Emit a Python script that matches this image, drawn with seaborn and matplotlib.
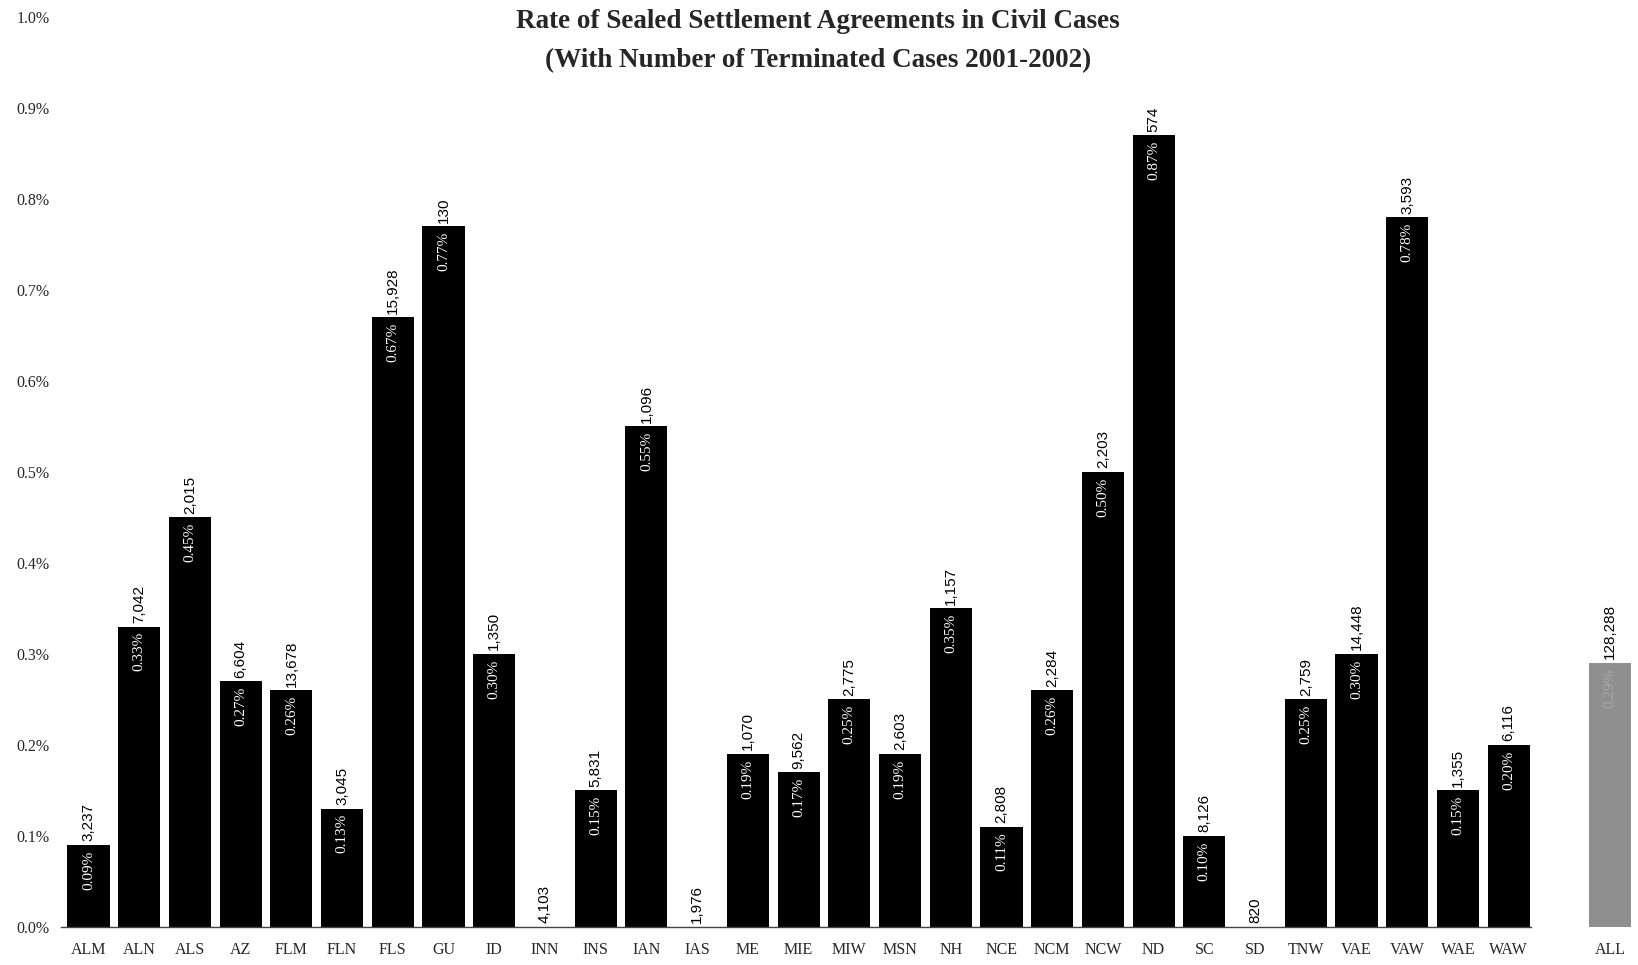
import matplotlib
matplotlib.use("Agg")
import matplotlib.pyplot as plt
import seaborn as sns
import pandas as pd

districts = ["ALM", "ALN", "ALS", "AZ", "FLM", "FLN", "FLS", "GU", "ID", "INN",
             "INS", "IAN", "IAS", "ME", "MIE", "MIW", "MSN", "NH", "NCE", "NCM",
             "NCW", "ND", "SC", "SD", "TNW", "VAE", "VAW", "WAE", "WAW", "ALL"]
sealed_rate = [0.09, 0.33, 0.45, 0.27, 0.26, 0.13, 0.67, 0.77, 0.30, 0.00,
               0.15, 0.55, 0.00, 0.19, 0.17, 0.25, 0.19, 0.35, 0.11, 0.26,
               0.50, 0.87, 0.10, 0.00, 0.25, 0.30, 0.78, 0.15, 0.20, 0.29]
terminated = [3237, 7042, 2015, 6604, 13678, 3045, 15928, 130, 1350, 4103,
              5831, 1096, 1976, 1070, 9562, 2775, 2603, 1157, 2808, 2284,
              2203, 574, 8126, 820, 2759, 14448, 3593, 1355, 6116, 128288]
y_ticks = [0.0, 0.1, 0.2, 0.3, 0.4, 0.5, 0.6, 0.7, 0.8, 0.9, 1.0]

df = pd.DataFrame({"district": districts, "rate": sealed_rate, "cases": terminated})

# a blank slot separates the national total from the districts
spacer = " "
order = districts[:-1] + [spacer, "ALL"]
palette = {d: "black" for d in districts}
palette["ALL"] = "#8f8f8f"

sns.set_style("white")
serif = ["Liberation Serif", "DejaVu Serif"]
sans = ["Liberation Sans", "DejaVu Sans"]

fig = plt.figure(figsize=(16.38, 9.65), dpi=100)
ax = fig.add_axes([0.037, 0.0394, 0.963, 0.9430])

sns.barplot(data=df, x="district", y="rate", hue="district", order=order,
            palette=palette, legend=False, width=0.83, saturation=1,
            edgecolor="none", ax=ax)

ax.set_xlim(-0.55, len(order) - 0.45)
ax.set_ylim(0, 1.0)
ax.set_yticks(y_ticks)
ax.set_yticklabels([f"{t:.1f}%" for t in y_ticks], family=serif, fontsize=11.5)
ax.set_xticks(range(len(order)))
ax.set_xticklabels([("" if d == spacer else d) for d in order], family=serif,
                   fontsize=11.5)
ax.tick_params(axis="x", length=0, pad=11)
ax.tick_params(axis="y", length=0, pad=8)
ax.set_xlabel("")
ax.set_ylabel("")

for side in ["top", "right", "left"]:
    ax.spines[side].set_visible(False)
ax.spines["bottom"].set_color("#444444")
ax.spines["bottom"].set_linewidth(1.0)
ax.spines["bottom"].set_bounds(-0.55, len(districts) - 1.55)

for d, r, n in zip(districts, sealed_rate, terminated):
    xi = order.index(d)
    ax.text(xi, r + 0.004, f"{n:,}", rotation=90, ha="center", va="bottom",
            family=sans, fontsize=11, color="black")
    if r > 0:
        ax.text(xi, r - 0.006, f"{r:.2f}%", rotation=90, ha="center", va="top",
                family=serif, fontsize=11,
                color="white" if d != "ALL" else "#a8a8a8")

fig.text(0.4995, 0.978, "Rate of Sealed Settlement Agreements in Civil Cases",
         ha="center", va="center", family=serif, fontweight="bold", fontsize=19.5)
fig.text(0.4995, 0.937, "(With Number of Terminated Cases 2001-2002)",
         ha="center", va="center", family=serif, fontweight="bold", fontsize=19.5)

fig.savefig("out.png", dpi=100, facecolor="white")
